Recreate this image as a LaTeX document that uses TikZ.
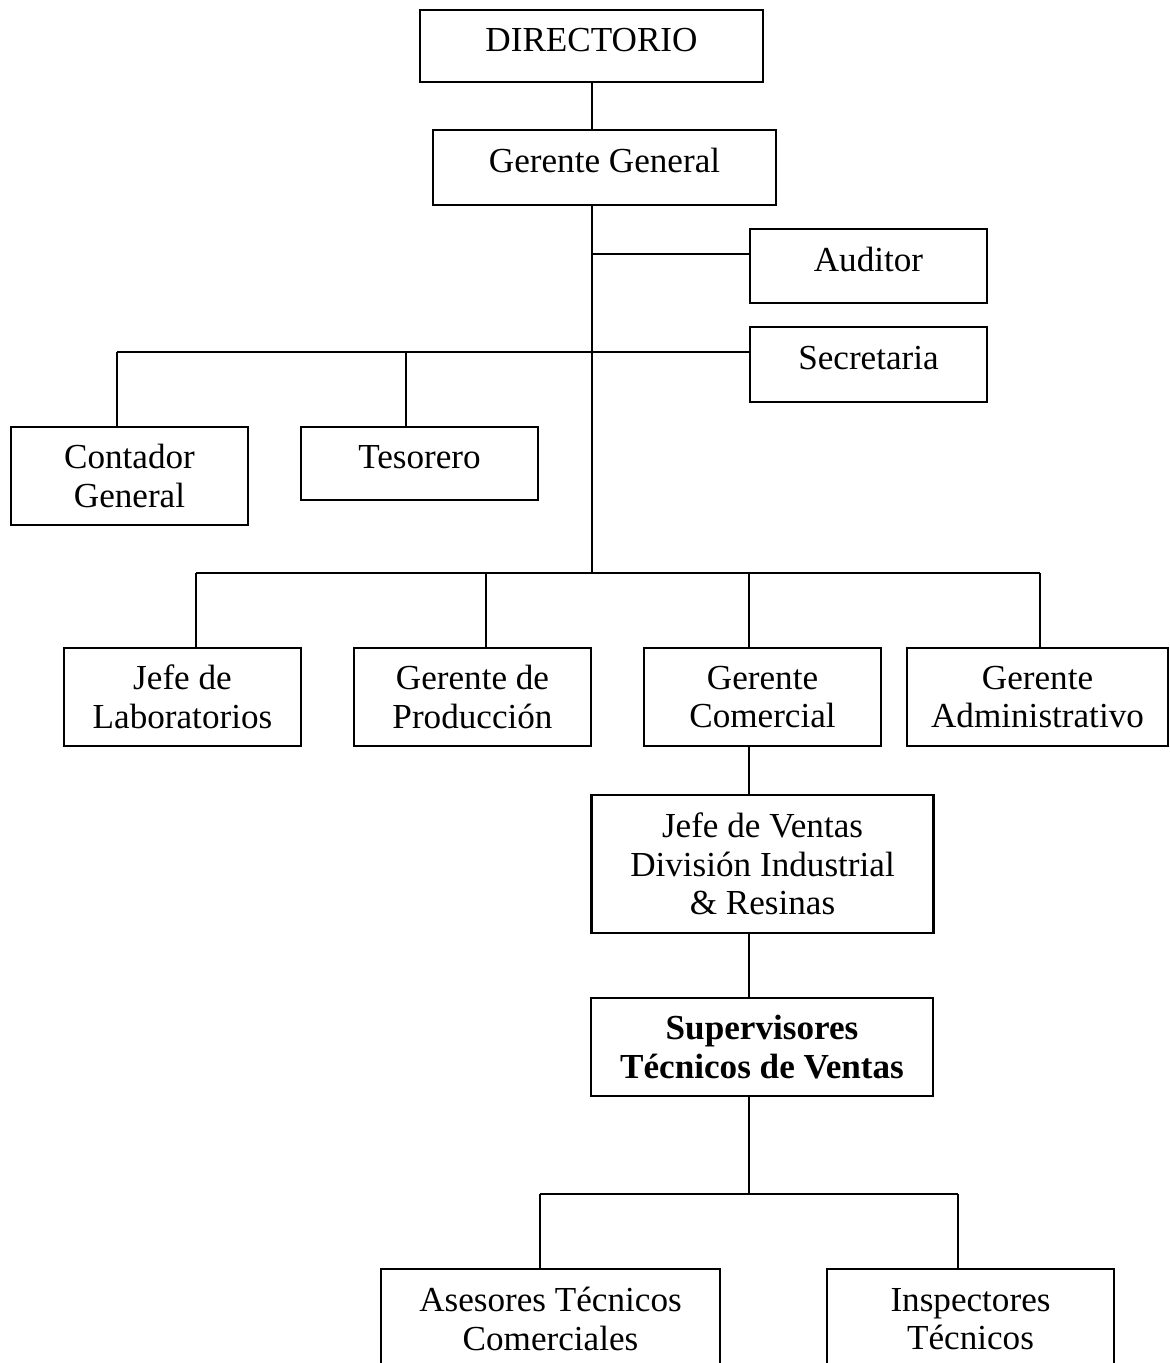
\documentclass[tikz,border=0pt]{standalone}
\usepackage{fontspec}
\setmainfont{Liberation Serif}
\usetikzlibrary{calc, positioning}
\tikzset{
	x = 0.02cm,
	y = -0.02cm,
	line width = 1pt,
	font = \fontsize{20}{22}\selectfont,
	unit/.style={
		draw,
		line width=1.3pt,
		align=center,
		inner sep=2pt,
		minimum width=4.74cm,
		minimum height=1.96cm
	},
	wide unit/.style={
		unit,
		minimum width=6.84cm
	},
	flat unit/.style={
		unit,
		minimum height=1.48cm,
		text height=14pt,
		text depth=8pt
	},
	link/.style={
		line width=1pt
	}
}

\begin{document}
\begin{tikzpicture}
		\clip (0,0) rectangle (1170,1363);
		\fill[white] (0,0) rectangle (1170,1363);

		% top
		\node[flat unit, minimum width=6.86cm, minimum height=1.44cm] (dir) at (591.5,46) {DIRECTORIO};
		\node[flat unit, minimum width=6.86cm, minimum height=1.5cm] (gg) at (604.5,167.5) {Gerente General};

		\node[flat unit] (aud) at (868.5,266) {Auditor};
		\node[flat unit, minimum height=1.5cm] (sec) at (868.5,364.5) {Secretaria};

		\node[unit] (cont) at (129.5,476) {Contador\\General};
		\node[flat unit, minimum height=1.46cm] (tes) at (419.5,463.5) {Tesorero};

		% gerencias
		\node[unit] (lab) at (182.5,697) {Jefe de\\Laboratorios};
		\node[unit] (prod) at (472.5,697) {Gerente de\\Producción};
		\node[unit] (com) at (762.5,697) {Gerente\\Comercial};
		\node[unit, minimum width=5.22cm] (adm) at (1037.5,697) {Gerente\\Administrativo};

		% ventas
		\node[wide unit, minimum height=2.76cm] (jv) at (762.5,864) {Jefe de Ventas\\División Industrial\\\& Resinas};
		\node[wide unit, font=\fontsize{20}{22}\selectfont\bfseries] (sup) at (762,1047) {Supervisores\\Técnicos de Ventas};

		\node[wide unit, minimum width=6.78cm, minimum height=2cm, anchor=north] (ase) at (550.5,1268) {Asesores Técnicos\\Comerciales};
		\node[unit, minimum width=5.74cm, minimum height=2cm, anchor=north] (ins) at (970.5,1268) {Inspectores\\Técnicos};

		% trunk
		\coordinate (ja) at (592,254);
		\coordinate (js) at (117,352);
		\coordinate (jt) at (406,352);
		\coordinate (jr) at (196,573);
		\coordinate (jp) at (486,573);
		\coordinate (jc) at (749,573);
		\coordinate (jd) at (1040,573);
		\coordinate (jb) at (540,1194);
		\coordinate (ji) at (958,1194);

		\draw[link] (dir.south -| ja) to (gg.north -| ja);
		\draw[link] (gg.south -| ja) to (ja |- jr);
		\draw[link] (ja) to (ja -| aud.west);
		\draw[link] (js) to (js -| sec.west);
		\draw[link] (js) to (js |- cont.north);
		\draw[link] (jt) to (jt |- tes.north);

		\draw[link] (jr) to (jd);
		\draw[link] (jr) to (jr |- lab.north);
		\draw[link] (jp) to (jp |- prod.north);
		\draw[link] (jc) to (jc |- com.north);
		\draw[link] (jd) to (jd |- adm.north);

		\draw[link] (com.south -| jc) to (jv.north -| jc);
		\draw[link] (jv.south -| jc) to (sup.north -| jc);
		\draw[link] (sup.south -| jc) to (jc |- jb);
		\draw[link] (jb) to (ji);
		\draw[link] (jb) to (jb |- ase.north);
		\draw[link] (ji) to (ji |- ins.north);
	\end{tikzpicture}
\end{document}
